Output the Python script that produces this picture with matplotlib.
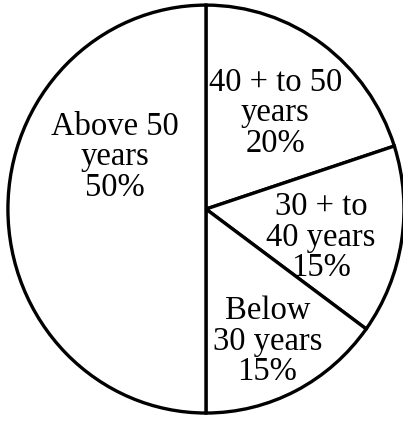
import matplotlib
import matplotlib.pyplot as plt

matplotlib.use("Agg")
plt.rcParams["font.family"] = ["Liberation Serif", "DejaVu Serif"]

# Data (clockwise from the top)
groups = ["40 + to 50\nyears", "30 + to\n40 years", "Below\n30 years", "Above 50\nyears"]
shares = [20, 15, 15, 50]

# label positions in data units (style only)
label_pos = [(0.35, 0.47), (0.58, -0.14), (0.31, -0.65), (-0.46, 0.255)]

fig = plt.figure(figsize=(4.03, 4.22), dpi=100)
ax = fig.add_axes([0, 0, 1, 1])

wedges, _ = ax.pie(
    shares,
    startangle=90,
    counterclock=False,
    colors=["white"] * len(shares),
    wedgeprops={"edgecolor": "black", "linewidth": 2.4},
)

for name, val, (x, y) in zip(groups, shares, label_pos):
    ax.text(x, y, f"{name}\n{val}%", ha="center", va="center",
            fontsize=23.5, linespacing=1.0)

ax.set_aspect("auto")
ax.set_xlim(-1.04, 0.995)
ax.set_ylim(-1.044, 1.025)
ax.axis("off")

fig.savefig("out.png", dpi=100)
